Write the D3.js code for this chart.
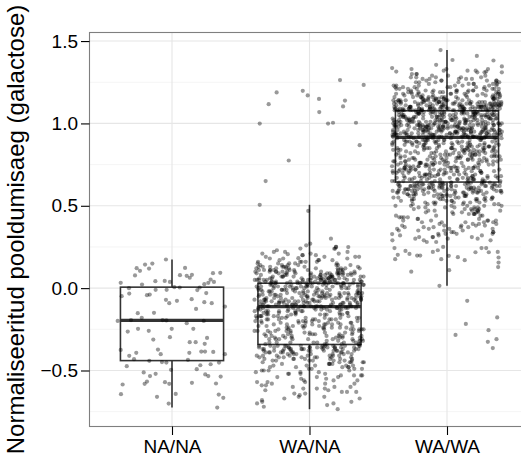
<!DOCTYPE html>
<html>
<head>
    <meta charset="utf-8">
    <script src="https://d3js.org/d3.v7.min.js"></script>
    <style>
        body, html {
            margin: 0;
            background: #fff;
            overflow: hidden;
        }
        svg text {
            font-family: "Liberation Sans", Arial, sans-serif;
        }
    </style>
</head>
<body>
<div id="chart"></div>
<script>
    const categories = ["NA/NA", "WA/NA", "WA/WA"];
    const yTicks = [-0.5, 0, 0.5, 1, 1.5];
    const yMinorTicks = [-0.75, -0.25, 0.25, 0.75, 1.25];
    const yTitle = "Normaliseeritud pooldumisaeg (galactose)";

    // boxplot statistics per genotype
    const boxLower  = [-0.725, -0.735, 0.014];
    const boxQ1     = [-0.44, -0.342, 0.644];
    const boxMedian = [-0.196, -0.112, 0.915];
    const boxQ3     = [0.006, 0.030, 1.077];
    const boxUpper  = [0.174, 0.506, 1.445];

    // NA/NA points: [jitter, value]
    const naNaPoints = [
        [-0.044,0.174],[-0.257,0.121],[-0.196,0.143],[-0.143,0.149],[-0.167,0.119],[-0.233,0.105],[-0.269,0.077],
        [0.095,0.123],[0.058,0.079],[0.107,0.075],[0.145,0.081],[0.129,0.063],[0.298,0.091],[0.351,0.093],
        [0.281,0.052],[0.305,0.038],[0.264,0.032],[0.235,0.024],[-0.373,0.032],[-0.015,0.038],[-0.053,0.044],
        [-0.121,0.042],[0.017,0.006],[0.056,0.004],[-0.218,0.022],[-0.313,0.0],[-0.119,-0.010],[-0.039,-0.010],
        [0.201,0.004],[0.184,-0.012],[0.249,-0.030],[-0.311,-0.033],[-0.366,-0.049],[-0.162,-0.039],[-0.182,-0.043],
        [-0.044,-0.071],[0.143,-0.067],[0.036,-0.077],[-0.020,-0.091],[0.235,-0.085],[0.289,-0.091],[0.175,-0.126],
        [0.385,-0.112],[-0.249,-0.152],[-0.131,-0.150],[-0.220,-0.180],[-0.395,-0.199],[-0.298,-0.194],[-0.068,-0.194],
        [-0.041,-0.196],[0.231,-0.199],[0.107,-0.213],[-0.322,-0.264],[-0.247,-0.247],[-0.169,-0.259],[-0.002,-0.247],
        [0.155,-0.247],[-0.136,-0.312],[-0.015,-0.298],[0.129,-0.328],[0.172,-0.328],[0.255,-0.302],[0.238,-0.338],
        [-0.373,-0.375],[-0.311,-0.411],[-0.260,-0.393],[-0.102,-0.373],[-0.082,-0.401],[0.126,-0.393],[0.213,-0.385],
        [0.240,-0.385],[0.300,-0.387],[0.385,-0.401],[-0.276,-0.431],[-0.165,-0.441],[-0.073,-0.449],[-0.041,-0.452],
        [0.116,-0.435],[0.342,-0.452],[-0.329,-0.474],[-0.007,-0.496],[0.206,-0.468],[0.180,-0.492],[0.281,-0.462],
        [-0.206,-0.512],[-0.160,-0.534],[-0.119,-0.520],[0.242,-0.524],[0.264,-0.534],[0.354,-0.537],[-0.359,-0.585],
        [-0.199,-0.581],[-0.182,-0.567],[-0.051,-0.571],[-0.020,-0.581],[0.145,-0.575],[0.320,-0.579],[-0.371,-0.644],
        [-0.109,-0.660],[0.027,-0.642],[0.340,-0.646],[0.373,-0.666],[-0.024,-0.701],[0.329,-0.725]
    ];

    // WA/NA isolated points: [jitter, value]
    const waNaPoints = [
        [0.222,1.263],[0.394,1.234],[-0.239,1.188],[-0.049,1.198],[-0.013,1.170],[0.069,1.149],[0.258,1.139],
        [-0.297,1.117],[0.244,1.103],[0.071,1.069],[-0.362,0.999],[0.135,0.999],[0.171,1.004],[0.338,1.004],
        [0.365,0.868],[-0.151,0.775],[-0.319,0.650],[-0.362,0.506],[-0.009,0.469],[0.156,0.300],[0.205,-0.735],
        [0.180,0.239],[0.282,0.249],[-0.158,0.206],[-0.081,0.182]
    ];

    // WA/NA dense cloud: values only
    const waNaValues = [
        0.04,0.11,0.06,0.19,0.03,0.08,0.14,0.05,0.22,0.09,0.04,0.12,0.07,0.16,0.03,0.10,0.05,0.25,0.08,0.13,
        0.06,0.04,0.17,0.09,0.11,0.03,0.07,0.20,0.05,0.12,0.08,0.15,0.04,0.10,0.06,0.27,0.09,0.13,0.05,0.07,
        0.18,0.04,0.11,0.06,0.14,0.03,0.08,0.21,0.10,0.05,0.12,0.07,0.16,0.04,0.09,0.06,0.24,0.11,0.03,0.08,
        0.13,0.05,0.19,0.07,0.10,0.04,0.15,0.06,0.09,0.12,0.03,0.17,0.08,0.05,0.11,0.23,0.07,0.14,0.04,0.10,
        0.06,0.13,0.09,0.18,0.05,0.08,0.12,0.03,0.16,0.07,0.21,0.10,0.04,0.11,0.06,0.14,0.09,0.05,0.20,0.08,
        0.12,0.04,0.07,0.15,0.10,0.03,0.26,0.06,0.13,0.09,0.05,0.17,0.11,0.08,0.04,0.14,0.07,0.22,0.10,0.06,
        0.12,0.03,0.09,0.16,0.05,0.11,0.08,0.19,0.04,0.13,0.07,0.10,0.06,0.15,0.24,0.21,0.18,0.25,0.09,0.05,
        0.05,0.09,0.03,0.13,0.07,0.11,0.04,0.16,0.06,0.10,0.08,0.19,0.05,0.12,0.03,0.14,0.09,0.06,0.22,0.04,
        0.11,0.07,0.15,0.05,0.08,0.12,0.03,0.17,0.10,0.06,0.13,0.04,0.09,0.20,0.07,0.11,0.05,0.14,
        -0.05,0.01,-0.09,-0.02,0.03,-0.07,-0.11,-0.04,0.00,-0.08,-0.01,-0.10,-0.06,0.02,-0.03,-0.09,0.01,-0.05,-0.11,-0.02,
        -0.07,0.00,-0.04,-0.10,0.02,-0.06,-0.01,-0.08,-0.03,0.03,-0.11,-0.05,-0.02,-0.09,0.01,-0.07,-0.04,0.02,-0.10,-0.06,
        0.00,-0.08,-0.03,0.01,-0.05,-0.10,-0.01,-0.09,0.02,-0.07,-0.04,-0.11,0.03,-0.06,-0.02,-0.08,-0.03,0.00,-0.05,-0.09,
        -0.01,-0.10,0.01,-0.07,-0.04,0.02,-0.11,-0.06,-0.02,-0.08,-0.03,0.00,-0.05,-0.10,-0.01,-0.09,0.01,-0.07,-0.04,-0.11,
        0.02,-0.06,0.00,-0.08,-0.03,0.03,-0.05,-0.10,-0.02,-0.09,0.01,-0.07,-0.04,0.02,-0.11,-0.06,-0.01,-0.08,-0.03,0.00,
        -0.05,-0.10,-0.02,-0.09,0.01,-0.07,-0.04,-0.11,0.02,-0.06,0.00,-0.08,-0.03,0.01,-0.05,-0.10,-0.01,-0.09,0.03,-0.07,
        -0.04,0.02,-0.11,-0.06,-0.02,-0.08,-0.03,0.01,-0.05,-0.10,-0.01,-0.09,0.00,-0.07,-0.04,-0.11,0.02,-0.06,-0.03,-0.08,
        -0.03,-0.08,0.01,-0.10,-0.05,0.02,-0.07,-0.01,-0.11,-0.04,0.00,-0.09,-0.06,0.03,-0.02,-0.08,-0.04,0.01,-0.10,-0.06,
        -0.01,-0.07,0.02,-0.03,-0.09,-0.05,0.00,-0.11,-0.02,-0.07,0.01,-0.04,-0.08,-0.06,0.02,-0.10,-0.03,-0.05,
        -0.21,-0.15,-0.29,-0.12,-0.26,-0.18,-0.33,-0.14,-0.23,-0.31,-0.17,-0.27,-0.13,-0.20,-0.34,-0.24,-0.16,-0.30,-0.19,-0.28,
        -0.12,-0.25,-0.32,-0.15,-0.22,-0.18,-0.29,-0.13,-0.26,-0.20,-0.33,-0.16,-0.24,-0.14,-0.31,-0.21,-0.27,-0.17,-0.12,-0.30,
        -0.23,-0.19,-0.34,-0.15,-0.28,-0.13,-0.25,-0.18,-0.32,-0.22,-0.14,-0.29,-0.20,-0.26,-0.16,-0.33,-0.12,-0.24,-0.19,-0.31,
        -0.17,-0.27,-0.21,-0.13,-0.30,-0.23,-0.15,-0.28,-0.18,-0.34,-0.25,-0.14,-0.20,-0.32,-0.16,-0.26,-0.22,-0.12,-0.29,-0.19,
        -0.24,-0.31,-0.15,-0.27,-0.13,-0.21,-0.33,-0.17,-0.25,-0.14,-0.30,-0.20,-0.28,-0.16,-0.23,-0.12,-0.32,-0.18,-0.26,-0.22,
        -0.34,-0.15,-0.29,-0.19,-0.13,-0.24,-0.31,-0.17,-0.27,-0.21,-0.14,-0.30,-0.23,-0.16,-0.28,-0.12,-0.25,-0.33,-0.18,-0.20,
        -0.26,-0.15,-0.32,-0.22,-0.13,-0.29,-0.19,-0.24,-0.17,-0.31,-0.14,-0.27,-0.21,-0.34,-0.16,-0.23,-0.30,-0.18,-0.25,-0.12,
        -0.19,-0.28,-0.14,-0.31,-0.22,-0.16,-0.25,-0.33,-0.12,-0.21,-0.29,-0.17,-0.24,-0.13,-0.32,-0.20,-0.27,-0.15,-0.34,-0.23,
        -0.18,-0.30,-0.12,-0.26,-0.21,-0.14,-0.33,-0.19,-0.28,-0.16,-0.25,-0.31,-0.13,-0.22,-0.29,-0.17,-0.24,-0.20,
        -0.36,-0.42,-0.35,-0.51,-0.39,-0.58,-0.37,-0.45,-0.63,-0.40,-0.36,-0.48,-0.54,-0.38,-0.43,-0.69,-0.35,-0.47,-0.41,-0.60,
        -0.37,-0.52,-0.44,-0.36,-0.66,-0.39,-0.49,-0.35,-0.56,-0.42,-0.38,-0.46,-0.61,-0.37,-0.53,-0.40,-0.36,-0.71,-0.44,-0.50,
        -0.35,-0.57,-0.39,-0.43,-0.64,-0.37,-0.48,-0.41,-0.36,-0.55,-0.45,-0.38,-0.67,-0.42,-0.35,-0.51,-0.40,-0.59,-0.37,-0.47,
        -0.44,-0.36,-0.62,-0.39,-0.53,-0.41,-0.35,-0.49,-0.70,-0.38,-0.43,-0.57,-0.36,-0.46,-0.40,-0.65,-0.37,-0.52,-0.42,-0.35,
        -0.48,-0.60,-0.39,-0.44,-0.36,-0.55,-0.41,-0.38,-0.68,-0.45,-0.37,-0.50,-0.43,-0.35,-0.58,-0.40,-0.47,-0.36,-0.63,-0.39,
        -0.54,-0.42,-0.38,-0.46,-0.72,-0.37,-0.51,-0.44,-0.35,-0.61,-0.41,-0.49,-0.36,-0.56,-0.39,-0.43,-0.66,-0.38,-0.45,-0.52,
        -0.37,-0.59,-0.40,-0.35,-0.48,-0.64,-0.42,-0.36,-0.53,-0.47,-0.39,-0.70,-0.44,-0.38,-0.57,-0.41,-0.50,-0.37,-0.62,-0.46,
        -0.38,-0.45,-0.36,-0.53,-0.41,-0.60,-0.37,-0.48,-0.35,-0.43,-0.67,-0.39,-0.50,-0.36,-0.56,-0.42,-0.38,-0.46,-0.63,-0.40,
        -0.35,-0.52,-0.44,-0.37,-0.58,-0.41,-0.47,-0.36,-0.69,-0.43,-0.39,-0.54,-0.37,-0.49,-0.42,-0.61,-0.38,-0.45
    ];

    // WA/WA isolated points: [jitter, value]
    const waWaPoints = [
        [-0.047,1.445],[-0.399,1.336],[-0.369,1.315],[0.217,1.410],[0.338,1.382],[0.399,1.346],[0.040,1.385],
        [-0.079,1.356],[0.285,1.315],[-0.055,0.014],[-0.260,0.100],[0.147,-0.077],[0.365,-0.178],[0.137,-0.217],
        [0.062,-0.284],[0.302,-0.255],[0.297,-0.326],[0.360,-0.310],[0.333,-0.364],[-0.399,0.328],[-0.382,0.243],
        [-0.377,0.176],[-0.358,0.202],[-0.302,0.226],[-0.273,0.208],[-0.217,0.198],[-0.195,0.198],[-0.103,0.220],
        [-0.067,0.230],[-0.042,0.176],[-0.028,0.250],[0.013,0.196],[0.016,0.109],[0.079,0.188],[0.129,0.170],
        [0.207,0.218],[0.251,0.243],[0.285,0.243],[0.304,0.218],[0.369,0.220],[0.375,0.186],[0.375,0.155],[0.372,0.128]
    ];

    // WA/WA dense cloud: values only
    const waWaValues = [
        0.33,0.29,0.38,0.31,0.40,0.35,0.28,0.37,0.32,0.41,0.30,0.36,0.39,0.34,0.29,0.40,0.33,0.37,0.31,0.38,
        0.35,0.30,0.41,0.36,0.32,0.39,0.28,0.34,0.40,0.37,0.31,0.35,0.38,0.33,0.41,0.30,0.36,0.39,0.32,0.34,
        0.40,0.37,0.29,0.38,0.35,
        0.52,0.61,0.45,0.58,0.63,0.49,0.56,0.42,0.60,0.54,0.64,0.47,0.59,0.51,0.62,0.44,0.57,0.63,0.50,0.55,
        0.61,0.46,0.59,0.53,0.64,0.48,0.60,0.56,0.43,0.62,0.58,0.51,0.63,0.54,0.45,0.61,0.57,0.49,0.64,0.59,
        0.52,0.62,0.47,0.55,0.60,0.63,0.50,0.58,0.44,0.61,0.56,0.64,0.53,0.59,0.48,0.62,0.57,0.42,0.60,0.54,
        0.63,0.51,0.58,0.46,0.61,0.55,0.64,0.49,0.59,0.62,0.52,0.57,0.45,0.60,0.63,0.54,0.58,0.50,0.61,0.56,
        0.64,0.47,0.59,0.62,0.53,0.43,0.60,0.57,0.63,0.51,0.58,0.55,0.61,0.48,0.64,0.59,0.44,0.62,0.56,0.52,
        0.60,0.63,0.49,0.57,0.61,0.54,0.64,0.46,0.58,0.62,0.50,0.59,0.63,0.55,0.41,0.60,0.53,0.61,0.57,0.64,
        0.47,0.62,0.58,0.52,0.63,0.56,0.60,0.45,0.59,0.62,
        0.57,0.49,0.62,0.36,0.54,0.60,0.44,0.58,0.63,0.51,0.40,0.61,0.55,0.47,0.64,0.59,0.33,0.53,0.62,0.48,
        0.56,0.60,0.43,0.63,0.52,0.58,0.39,0.61,0.50,0.57,0.64,0.46,0.59,0.54,0.31,0.62,0.56,0.60,0.49,0.63,
        0.42,0.58,0.53,0.61,0.37,0.57,0.64,0.51,0.59,0.45,0.62,0.55,0.60,0.48,0.63,0.34,0.56,0.61,0.52,0.58,
        0.41,0.64,0.50,0.59,0.57,0.46,0.62,0.54,0.60,0.38,0.63,0.53,0.58,0.47,0.61,0.55,0.43,0.62,0.59,0.56,
        0.78,0.66,0.85,0.71,0.90,0.69,0.82,0.74,0.88,0.67,0.79,0.86,0.72,0.91,0.76,0.68,0.84,0.73,0.89,0.80,
        0.65,0.77,0.87,0.70,0.83,0.75,0.90,0.66,0.81,0.72,0.88,0.78,0.69,0.85,0.74,0.91,0.67,0.80,0.86,0.71,
        0.84,0.76,0.65,0.89,0.73,0.82,0.68,0.87,0.79,0.70,0.90,0.75,0.83,0.66,0.88,0.77,0.72,0.85,0.69,0.81,
        0.91,0.74,0.86,0.67,0.78,0.89,0.71,0.84,0.76,0.65,0.82,0.73,0.90,0.68,0.87,0.80,0.70,0.85,0.75,0.88,
        0.66,0.79,0.83,0.72,0.91,0.77,0.69,0.86,0.74,0.81,0.67,0.89,0.78,0.71,0.84,0.65,0.87,0.76,0.82,0.73,
        0.90,0.68,0.80,0.85,0.70,0.88,0.75,0.66,0.83,0.79,0.72,0.91,0.77,0.69,0.86,0.74,0.81,0.67,0.89,0.78,
        0.71,0.84,0.65,0.87,0.76,0.82,0.73,0.90,0.68,0.80,0.85,0.70,0.88,0.75,0.66,0.83,0.79,0.91,0.72,0.86,
        0.77,0.69,0.81,0.74,0.89,0.67,0.84,0.78,0.71,0.87,0.65,0.82,0.76,0.90,0.73,0.80,0.68,0.85,0.75,0.88,
        0.70,0.83,0.66,0.79,0.91,0.72,0.86,0.77,0.69,0.81,0.74,0.89,0.67,0.84,0.78,0.87,0.71,0.82,0.76,0.90,
        0.73,0.65,0.80,0.85,0.68,0.88,0.75,0.83,0.70,0.79,0.91,0.66,0.86,0.72,0.81,0.77,0.89,0.74,0.84,0.69,
        0.83,0.71,0.88,0.67,0.79,0.74,0.90,0.69,0.85,0.77,0.66,0.81,0.73,0.87,0.70,0.84,0.78,0.91,0.68,0.76,
        0.86,0.72,0.80,0.65,0.89,0.75,0.82,0.70,0.87,0.78,0.67,0.84,0.73,0.90,0.79,0.71,0.85,0.76,0.68,0.81,
        0.88,0.74,0.66,0.83,0.77,0.91,0.72,0.86,0.69,0.80,0.75,0.89,0.82,0.67,0.78,0.84,0.71,0.87,0.76,0.90,
        0.73,0.65,0.81,0.85,0.70,0.79,0.88,0.74,0.83,0.68,0.77,0.91,0.72,0.86,0.80,0.66,0.84,0.75,0.89,0.78,
        0.70,0.82,0.87,0.73,0.79,0.69,0.85,0.76,0.90,0.81,0.67,0.88,0.74,0.83,0.71,0.86,0.77,0.80,0.72,0.89,
        0.99,0.93,1.04,0.96,1.07,0.92,1.01,0.97,1.05,0.94,1.00,1.06,0.95,1.03,0.98,0.92,1.02,0.96,1.07,0.99,
        0.93,1.04,0.97,1.01,0.94,1.06,0.98,1.00,0.95,1.03,0.92,1.05,0.99,0.96,1.02,0.93,1.07,0.97,1.00,0.94,
        1.04,0.98,1.01,0.95,1.06,0.92,1.03,0.99,0.96,1.05,0.93,1.00,0.97,1.02,0.94,1.07,0.98,1.01,0.95,1.04,
        0.92,0.99,1.06,0.96,1.03,0.93,1.00,0.97,1.05,0.94,1.02,0.98,1.07,0.95,1.01,0.92,1.04,0.99,0.96,1.06,
        0.93,1.03,0.97,1.00,0.94,1.05,0.98,1.02,0.95,1.07,0.92,1.01,0.99,0.96,1.04,0.93,1.06,0.97,1.00,0.94,
        1.03,0.98,1.05,0.95,1.02,0.92,0.99,1.07,0.96,1.01,0.93,1.04,0.97,1.00,0.94,1.06,0.98,1.03,0.95,1.02,
        0.92,1.05,0.99,0.96,1.01,0.93,1.07,0.97,1.04,0.94,1.00,0.98,1.06,0.95,1.03,0.92,1.02,0.99,0.96,1.05,
        0.93,1.01,0.97,1.04,0.94,1.00,0.98,1.07,0.95,1.02,0.92,1.06,0.99,0.96,1.03,0.93,1.05,0.97,1.01,0.94,
        1.04,0.98,1.00,0.95,1.06,0.92,1.02,0.99,0.96,1.07,0.93,1.03,0.97,1.01,0.94,1.05,0.98,1.00,0.95,1.04,
        0.92,1.02,0.99,0.96,1.06,0.93,1.01,0.97,1.03,0.94,1.07,0.98,1.05,0.95,1.00,0.92,1.04,0.99,0.96,1.02,
        1.02,0.95,1.06,0.98,0.93,1.04,1.00,0.96,1.07,0.94,1.01,0.97,1.05,0.92,0.99,1.03,0.95,1.06,0.98,1.00,
        0.93,1.04,0.96,1.02,0.99,1.07,0.94,1.01,0.97,1.05,0.92,1.03,0.98,0.95,1.06,1.00,0.93,0.99,1.04,0.96,
        1.02,0.94,1.07,0.97,1.01,0.92,1.05,0.99,0.95,1.03,0.98,1.06,0.93,1.00,0.96,1.04,0.94,1.02,0.97,1.07,
        0.99,0.92,1.05,1.01,0.95,1.03,0.98,0.93,1.06,1.00,0.96,1.04,0.94,0.99,1.02,0.97,1.07,0.92,1.05,1.01,
        0.95,1.03,0.98,1.06,0.93,1.00,0.96,1.04,0.94,1.02,0.99,0.97,1.07,0.92,1.05,1.01,0.95,1.03,0.98,1.06,
        1.12,1.08,1.19,1.10,1.25,1.14,1.09,1.22,1.11,1.16,1.08,1.30,1.13,1.18,1.09,1.21,1.10,1.15,1.27,1.12,
        1.08,1.17,1.11,1.24,1.09,1.14,1.20,1.10,1.32,1.13,1.08,1.16,1.23,1.11,1.19,1.09,1.15,1.28,1.12,1.10,
        1.18,1.08,1.22,1.14,1.09,1.26,1.11,1.17,1.13,1.20,1.08,1.10,1.24,1.15,1.12,1.31,1.09,1.19,1.11,1.16,
        1.08,1.21,1.13,1.10,1.27,1.14,1.09,1.18,1.12,1.23,1.08,1.15,1.29,1.11,1.17,1.10,1.20,1.13,1.09,1.25,
        1.16,1.08,1.12,1.22,1.14,1.10,1.33,1.11,1.18,1.09,1.15,1.26,1.13,1.08,1.19,1.12,1.21,1.10,1.16,1.30,
        1.09,1.14,1.24,1.11,1.17,1.08,1.20,1.13,1.28,1.10,1.15,1.12,1.23,1.09,1.18,1.11,1.26,1.14,1.08,1.16,
        1.21,1.10,1.13,1.32,1.09,1.19,1.12,1.15,1.25,1.11,1.08,1.17,1.22,1.14,1.10,1.29,1.13,1.09,1.20,1.16,
        1.12,1.27,1.08,1.18,1.11,1.23,1.15,1.10,1.31,1.14,1.09,1.21,1.13,1.17,1.08,1.26,1.12,1.19,1.11,1.24,
        1.16,1.10,1.28,1.14,1.09,1.20,1.13,1.22,1.08,1.33,1.12,1.18,1.15,1.25,
        1.10,1.17,1.08,1.23,1.13,1.09,1.19,1.12,1.28,1.10,1.15,1.08,1.21,1.14,1.11,1.26,1.09,1.17,1.13,1.32,
        1.10,1.19,1.08,1.24,1.12,1.15,1.09,1.22,1.11,1.16,1.30,1.08,1.13,1.20,1.10,1.27,1.14,1.09,1.18,1.12,
        1.25,1.08,1.15,1.11,1.21,1.09,1.17,1.13,1.29,1.10,1.14,1.08,1.23,1.12,1.19,1.09,1.16,1.11,1.26,1.13,
        1.08,1.20,1.10,1.15,1.31,1.12,1.18,1.09,1.22,1.14,1.08,1.17,1.11,1.27,1.13,1.10,1.19,1.09,1.24,1.15,
        1.12,1.08,1.21,1.16,1.10,1.33,1.13,1.18,1.09,1.25,1.11,1.14,1.08,1.20,1.12,1.28,1.10,1.16,1.23,1.09
    ];

    const width = 521,
          height = 457,
          panelLeft = 89.5,
          panelTop = 32.5,
          panelWidth = 440,
          panelHeight = 394,
          dotRadius = 2.1,
          boxHalf = 0.375; // box width 0.75 of a category

    const svg = d3.select("#chart")
                  .append("svg")
                  .attr("width", width)
                  .attr("height", height);

    const x = d3.scaleLinear().domain([0.4, 3.6]).range([panelLeft, panelLeft + panelWidth]);
    const y = d3.scaleLinear().domain([-0.84, 1.552]).range([panelTop + panelHeight, panelTop]);

    // grid
    svg.append("g").selectAll("line")
       .data(yMinorTicks).join("line")
       .attr("x1", panelLeft).attr("x2", panelLeft + panelWidth)
       .attr("y1", d => y(d)).attr("y2", d => y(d))
       .attr("stroke", "#f5f5f5").attr("stroke-width", 1);
    svg.append("g").selectAll("line")
       .data(yTicks).join("line")
       .attr("x1", panelLeft).attr("x2", panelLeft + panelWidth)
       .attr("y1", d => y(d)).attr("y2", d => y(d))
       .attr("stroke", "#e6e6e6").attr("stroke-width", 1.1);
    svg.append("g").selectAll("line")
       .data(categories).join("line")
       .attr("x1", (d, i) => x(i + 1)).attr("x2", (d, i) => x(i + 1))
       .attr("y1", panelTop).attr("y2", panelTop + panelHeight)
       .attr("stroke", "#e6e6e6").attr("stroke-width", 1.1);

    // boxplots
    const boxes = svg.append("g")
                     .attr("stroke", "#333")
                     .selectAll("g")
                     .data(categories).join("g");
    boxes.append("line")
         .attr("x1", (d, i) => x(i + 1)).attr("x2", (d, i) => x(i + 1))
         .attr("y1", (d, i) => y(boxUpper[i])).attr("y2", (d, i) => y(boxLower[i]))
         .attr("stroke-width", 1.6);
    boxes.append("rect")
         .attr("x", (d, i) => x(i + 1 - boxHalf))
         .attr("width", (d, i) => x(i + 1 + boxHalf) - x(i + 1 - boxHalf))
         .attr("y", (d, i) => y(boxQ3[i]))
         .attr("height", (d, i) => y(boxQ1[i]) - y(boxQ3[i]))
         .attr("fill", "#fff")
         .attr("stroke-width", 1.6);
    boxes.append("line")
         .attr("x1", (d, i) => x(i + 1 - boxHalf)).attr("x2", (d, i) => x(i + 1 + boxHalf))
         .attr("y1", (d, i) => y(boxMedian[i])).attr("y2", (d, i) => y(boxMedian[i]))
         .attr("stroke-width", 3.2);

    // horizontal jitter (width 0.4) for the dense clouds, from a fixed seed
    // so the picture is the same on every load
    let seed = 20231;
    function jitter() {
        seed = (seed * 16807) % 2147483647;
        return (seed / 2147483647) * 0.8 - 0.4;
    }
    const points = [];
    naNaPoints.forEach(p => points.push({x: 1 + p[0], y: p[1]}));
    waNaValues.forEach(v => points.push({x: 2 + jitter(), y: v}));
    waNaPoints.forEach(p => points.push({x: 2 + p[0], y: p[1]}));
    waWaValues.forEach(v => points.push({x: 3 + jitter(), y: v}));
    waWaPoints.forEach(p => points.push({x: 3 + p[0], y: p[1]}));

    svg.append("g").selectAll("circle")
       .data(points).join("circle")
       .attr("cx", d => x(d.x))
       .attr("cy", d => y(d.y))
       .attr("r", dotRadius)
       .attr("fill", "#000")
       .attr("fill-opacity", 0.4);

    // panel border
    svg.append("rect")
       .attr("x", panelLeft).attr("y", panelTop)
       .attr("width", panelWidth).attr("height", panelHeight)
       .attr("fill", "none").attr("stroke", "#7f7f7f").attr("stroke-width", 1.1);

    // axes
    const yAxis = svg.append("g")
                     .attr("transform", `translate(${panelLeft},0)`)
                     .call(d3.axisLeft(y).tickValues(yTicks).tickSize(8.5).tickPadding(3)
                             .tickFormat(d3.format(".1f")));
    const xAxis = svg.append("g")
                     .attr("transform", `translate(0,${panelTop + panelHeight})`)
                     .call(d3.axisBottom(x).tickValues([1, 2, 3]).tickSize(8.5).tickPadding(5)
                             .tickFormat(d => categories[d - 1]));
    [yAxis, xAxis].forEach(ax => {
        ax.select(".domain").remove();
        ax.selectAll(".tick line").attr("stroke", "#000").attr("stroke-width", 1.1);
        ax.selectAll(".tick text")
          .attr("fill", "#000")
          .style("font-size", "19px")
          .style("font-family", "'Liberation Sans', Arial, sans-serif");
    });

    svg.append("text")
       .attr("transform", "rotate(-90)")
       .attr("x", -(panelTop + panelHeight / 2))
       .attr("y", 24)
       .attr("text-anchor", "middle")
       .style("font-size", "24px")
       .attr("fill", "#000")
       .text(yTitle);
</script>
</body>
</html>
